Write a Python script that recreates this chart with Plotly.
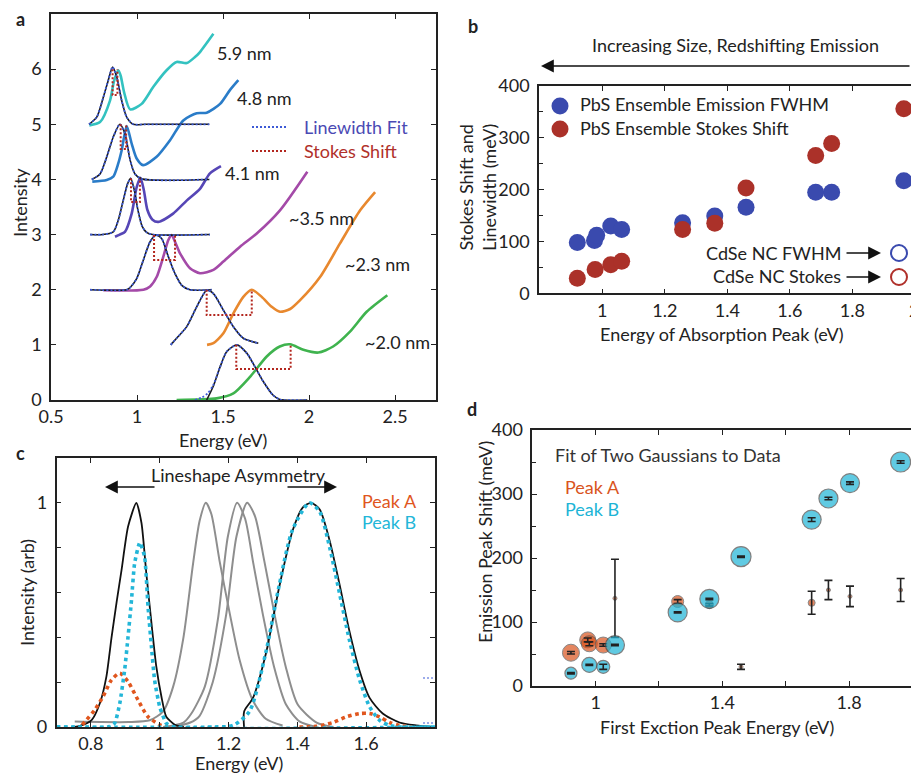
import plotly.graph_objects as go

W, H = 911, 774
def PX(x): return x / W
def PY(y): return 1 - y / H

FONT = "Lato, 'Open Sans', sans-serif"
TXT = "#222222"
FS = 18

# ---------------- Panel a data (energy eV, offset intensity) ----------------
size_labels = ["5.9 nm", "4.8 nm", "4.1 nm", "~3.5 nm", "~2.3 nm", "~2.0 nm"]
abs_colors = ["#33c2c0", "#2a7cc8", "#5646b6", "#a44aa8", "#e8882e", "#3fb34e"]

abs59_E = [0.723, 0.785, 0.843, 0.866, 0.891, 0.905, 0.925, 0.96, 1.027, 1.095, 1.172, 1.23, 1.289, 1.337, 1.366, 1.444]
abs59_I = [4.98, 5.04, 5.43, 5.78, 5.98, 5.88, 5.58, 5.27, 5.37, 5.68, 5.98, 6.13, 6.11, 6.22, 6.31, 6.64]
em59_E = [0.721, 0.766, 0.804, 0.833, 0.858, 0.882, 0.911, 0.94, 0.978, 1.05, 1.42]
em59_I = [5.0, 5.13, 5.49, 5.80, 6.04, 5.86, 5.43, 5.13, 5.0, 5.0, 5.0]

abs48_E = [0.74, 0.824, 0.862, 0.891, 0.911, 0.94, 0.969, 0.998, 1.035, 1.114, 1.192, 1.269, 1.347, 1.405, 1.483, 1.54, 1.589]
abs48_I = [3.96, 3.99, 4.05, 4.29, 4.53, 4.97, 4.65, 4.38, 4.26, 4.41, 4.71, 5.07, 5.2, 5.21, 5.37, 5.62, 5.80]
em48_E = [0.737, 0.785, 0.824, 0.862, 0.90, 0.93, 0.96, 0.988, 1.027, 1.42]
em48_I = [4.0, 4.1, 4.41, 4.77, 5.0, 4.83, 4.35, 4.1, 4.01, 4.0]

abs41_E = [0.872, 0.90, 0.93, 0.969, 0.998, 1.02, 1.04, 1.06, 1.09, 1.124, 1.21, 1.29, 1.366, 1.424, 1.488]
abs41_I = [2.96, 3.0, 3.05, 3.38, 3.86, 4.03, 3.8, 3.45, 3.27, 3.23, 3.38, 3.62, 3.83, 4.11, 4.24]
em41_E = [0.727, 0.80, 0.862, 0.89, 0.92, 0.945, 0.963, 0.985, 1.005, 1.03, 1.056, 1.09, 1.424]
em41_I = [3.0, 3.0, 3.05, 3.25, 3.62, 3.92, 4.02, 3.8, 3.45, 3.15, 3.04, 3.0, 3.0]

abs35_E = [0.804, 1.037, 1.076, 1.114, 1.153, 1.182, 1.2, 1.25, 1.308, 1.366, 1.444, 1.502, 1.599, 1.696, 1.831, 1.99]
abs35_I = [1.99, 2.0, 2.06, 2.23, 2.6, 2.9, 2.99, 2.66, 2.39, 2.30, 2.36, 2.51, 2.78, 3.02, 3.44, 4.14]
em35_E = [0.727, 0.94, 0.96, 0.998, 1.037, 1.076, 1.11, 1.143, 1.182, 1.221, 1.26, 1.308, 1.434]
em35_I = [2.0, 2.0, 2.04, 2.2, 2.54, 2.87, 2.99, 2.93, 2.6, 2.29, 2.08, 2.0, 2.0]

abs23_E = [1.407, 1.444, 1.502, 1.56, 1.618, 1.667, 1.725, 1.783, 1.831, 1.89, 1.948, 2.064, 2.18, 2.297, 2.384]
abs23_I = [1.0, 1.03, 1.21, 1.57, 1.87, 2.0, 1.87, 1.69, 1.6, 1.65, 1.81, 2.23, 2.84, 3.44, 3.77]
em23_E = [1.196, 1.23, 1.289, 1.347, 1.405, 1.444, 1.502, 1.56, 1.618, 1.705]
em23_I = [1.0, 1.12, 1.33, 1.69, 1.99, 1.93, 1.63, 1.33, 1.12, 1.03]

abs20_E = [1.23, 1.463, 1.56, 1.657, 1.754, 1.83, 1.89, 1.967, 2.054, 2.14, 2.238, 2.335, 2.455]
abs20_I = [0.0, 0.03, 0.12, 0.42, 0.79, 0.97, 1.01, 0.91, 0.86, 0.97, 1.24, 1.60, 1.90]
em20_E = [1.405, 1.442, 1.483, 1.521, 1.58, 1.638, 1.686, 1.735, 1.79, 1.83, 1.99]
em20_I = [0.0, 0.24, 0.6, 0.875, 1.0, 0.85, 0.6, 0.33, 0.09, 0.01, 0.0]
fit20_E = [1.337, 1.38, 1.41, 1.442, 1.483, 1.521, 1.58, 1.638, 1.686, 1.735, 1.79, 1.83, 1.99]
fit20_I = [0.0, 0.05, 0.12, 0.26, 0.6, 0.875, 1.0, 0.85, 0.6, 0.33, 0.09, 0.01, 0.0]

# Stokes shift brackets: emission peak, absorption peak, peak level, bracket bottom
stokes_em_E = [0.858, 0.905, 0.965, 1.099, 1.405, 1.577]
stokes_abs_E = [0.886, 0.937, 1.017, 1.221, 1.667, 1.893]
stokes_top = [6.0, 5.0, 4.02, 2.99, 2.0, 1.0]
stokes_bottom = [5.53, 4.55, 3.59, 2.54, 1.54, 0.56]

# ---------------- Panel b data ----------------
b_fwhm_E = [0.920, 0.975, 0.982, 1.027, 1.062, 1.257, 1.36, 1.46, 1.683, 1.734, 1.965]
b_fwhm_meV = [98, 102, 112, 130, 123, 136, 149, 166, 195, 195, 217]
b_stokes_E = [0.920, 0.977, 1.027, 1.062, 1.257, 1.36, 1.46, 1.683, 1.734, 1.965]
b_stokes_meV = [29, 46, 55, 62, 123, 135, 203, 266, 289, 356]

# ---------------- Panel c data ----------------
c_blk1_E = [0.753, 0.768, 0.802, 0.826, 0.845, 0.860, 0.875, 0.889, 0.908, 0.932, 0.947, 0.961, 0.976, 0.99, 1.005, 1.019, 1.044, 1.07]
c_blk1_I = [0.0, 0.005, 0.031, 0.106, 0.225, 0.40, 0.56, 0.70, 0.894, 1.0, 0.91, 0.686, 0.463, 0.27, 0.135, 0.046, 0.01, 0.0]
c_B1_E = [0.7, 0.85, 0.869, 0.884, 0.898, 0.908, 0.918, 0.927, 0.942, 0.956, 0.966, 0.976, 0.985, 1.0, 1.019, 1.04, 1.8]
c_B1_I = [0.0, 0.0, 0.017, 0.106, 0.254, 0.403, 0.567, 0.73, 0.823, 0.76, 0.537, 0.358, 0.21, 0.09, 0.017, 0.0, 0.0]
c_A1_E = [0.775, 0.787, 0.811, 0.835, 0.86, 0.884, 0.908, 0.937, 0.966, 1.0, 1.02]
c_A1_I = [0.01, 0.031, 0.076, 0.135, 0.21, 0.24, 0.202, 0.12, 0.046, 0.01, 0.0]
c_g1_E = [0.753, 0.91, 0.971, 1.01, 1.039, 1.069, 1.097, 1.116, 1.134, 1.15, 1.174, 1.203, 1.232, 1.27, 1.308, 1.357]
c_g1_I = [0.024, 0.022, 0.03, 0.07, 0.18, 0.40, 0.73, 0.92, 1.0, 0.95, 0.74, 0.51, 0.30, 0.12, 0.037, 0.007]
c_g2_E = [1.01, 1.069, 1.092, 1.131, 1.169, 1.198, 1.225, 1.248, 1.272, 1.3, 1.332, 1.367, 1.406, 1.456]
c_g2_I = [0.0, 0.02, 0.06, 0.18, 0.48, 0.85, 1.0, 0.93, 0.73, 0.5, 0.27, 0.1, 0.025, 0.0]
c_g3_E = [1.04, 1.089, 1.116, 1.154, 1.193, 1.223, 1.254, 1.277, 1.304, 1.334, 1.366, 1.401, 1.456, 1.505]
c_g3_I = [0.0, 0.02, 0.05, 0.2, 0.5, 0.85, 1.0, 0.94, 0.74, 0.5, 0.27, 0.1, 0.02, 0.0]
c_blk2_E = [1.245, 1.2455, 1.271, 1.309, 1.348, 1.387, 1.416, 1.44, 1.465, 1.494, 1.522, 1.551, 1.581, 1.61, 1.648, 1.697, 1.745, 1.793]
c_blk2_I = [0.0, 0.07, 0.13, 0.33, 0.63, 0.88, 0.98, 1.0, 0.97, 0.83, 0.64, 0.43, 0.25, 0.13, 0.06, 0.02, 0.007, 0.0]
c_B2_E = [0.7, 1.158, 1.213, 1.261, 1.308, 1.347, 1.386, 1.435, 1.465, 1.494, 1.522, 1.551, 1.581, 1.61, 1.639, 1.668, 1.704, 1.8]
c_B2_I = [0.0, 0.0, 0.007, 0.07, 0.33, 0.63, 0.88, 1.0, 0.96, 0.80, 0.6, 0.39, 0.21, 0.09, 0.03, 0.007, 0.0, 0.0]
c_A2_E = [1.406, 1.455, 1.503, 1.542, 1.581, 1.61, 1.639, 1.668, 1.697, 1.733]
c_A2_I = [0.0, 0.003, 0.02, 0.045, 0.06, 0.06, 0.045, 0.02, 0.007, 0.0]

# ---------------- Panel d data ----------------
dA_E = [0.922, 0.975, 0.98, 1.024, 1.061, 1.259, 1.359, 1.459, 1.682, 1.735, 1.803, 1.963]
dA_shift = [52, 72, 66, 64, 137, 132, 127, 30, 130, 150, 140, 150]
dA_err = [2, 3, 3, 2, 61, 3, 2, 4, 18, 15, 16, 18]
dA_size = [17, 16, 16, 16, 4, 12, 8, 4, 7, 4, 4, 4]
dB_E = [0.922, 0.98, 1.024, 1.061, 1.259, 1.359, 1.459, 1.682, 1.735, 1.803, 1.963]
dB_shift = [20, 33, 30, 64, 115, 136, 202, 260, 293, 317, 350]
dB_err = [1, 1, 4, 1, 1, 1, 1, 3, 2, 2, 2]
dB_size = [12, 15, 13, 19, 19, 19, 20, 19, 19, 19, 20]

fig = go.Figure()

def spl(x, y, ax, color, width=2.2, dash="solid", smooth=0.7):
    fig.add_trace(go.Scatter(x=x, y=y, mode="lines", xaxis=ax[0], yaxis=ax[1],
                             line=dict(color=color, width=width, dash=dash, shape="spline", smoothing=smooth),
                             hoverinfo="skip", showlegend=False))

A = ("x", "y"); B = ("x2", "y2"); C = ("x3", "y3"); D = ("x4", "y4")

# Panel a
abs_sets = [(abs59_E, abs59_I), (abs48_E, abs48_I), (abs41_E, abs41_I), (abs35_E, abs35_I), (abs23_E, abs23_I), (abs20_E, abs20_I)]
em_sets = [(em59_E, em59_I), (em48_E, em48_I), (em41_E, em41_I), (em35_E, em35_I), (em23_E, em23_I), (em20_E, em20_I)]
fit_sets = em_sets[:5] + [(fit20_E, fit20_I)]
for (e, i), col in zip(abs_sets, abs_colors):
    spl(e, i, A, col, width=2.6)
for e, i in em_sets:
    spl(e, i, A, "#1a1a1a", width=1.6)
for e, i in fit_sets:
    spl(e, i, A, "#3d5ad6", width=1.8, dash="2px,2px")
for em, ab, top, bot in zip(stokes_em_E, stokes_abs_E, stokes_top, stokes_bottom):
    fig.add_trace(go.Scatter(x=[em, em, ab, ab], y=[top, bot, bot, top], mode="lines",
                             xaxis="x", yaxis="y", line=dict(color="#b3261e", width=2, dash="2px,2px"),
                             hoverinfo="skip", showlegend=False))

# Panel b
fig.add_trace(go.Scatter(x=b_fwhm_E, y=b_fwhm_meV, mode="markers", xaxis="x2", yaxis="y2",
                         marker=dict(size=17, color="#3a4aae", line=dict(width=0)), showlegend=False, hoverinfo="skip"))
fig.add_trace(go.Scatter(x=b_stokes_E, y=b_stokes_meV, mode="markers", xaxis="x2", yaxis="y2",
                         marker=dict(size=17, color="#ab3129", line=dict(width=0)), showlegend=False, hoverinfo="skip"))

# Panel c
for e, i in [(c_g1_E, c_g1_I), (c_g2_E, c_g2_I), (c_g3_E, c_g3_I)]:
    spl(e, i, C, "#8e8e8e", width=2.0)
spl(c_blk1_E, c_blk1_I, C, "#111111", width=1.8, smooth=0.6)
spl(c_blk2_E, c_blk2_I, C, "#111111", width=1.8)
spl(c_A1_E, c_A1_I, C, "#e0561e", width=3.6, dash="dot")
spl(c_A2_E, c_A2_I, C, "#e0561e", width=3.6, dash="dot")
spl(c_B1_E, c_B1_I, C, "#23b6d8", width=3.6, dash="dot", smooth=0.5)
spl(c_B2_E, c_B2_I, C, "#23b6d8", width=3.6, dash="dot")

# Panel d
fig.add_trace(go.Scatter(x=dA_E, y=dA_shift, mode="markers", xaxis="x4", yaxis="y4",
                         marker=dict(size=dA_size, color="#d9541e", line=dict(width=1, color="#555555")),
                         showlegend=False, hoverinfo="skip"))
fig.add_trace(go.Scatter(x=dA_E, y=dA_shift, mode="markers", xaxis="x4", yaxis="y4",
                         marker=dict(size=1, color="rgba(0,0,0,0)"),
                         error_y=dict(type="data", array=dA_err, color="#222222", thickness=1.6, width=4),
                         showlegend=False, hoverinfo="skip"))
fig.add_trace(go.Scatter(x=dB_E, y=dB_shift, mode="markers", xaxis="x4", yaxis="y4",
                         marker=dict(size=dB_size, color="#1db4d6", line=dict(width=1.2, color="#4a4a4a")),
                         showlegend=False, hoverinfo="skip"))
fig.add_trace(go.Scatter(x=dB_E, y=dB_shift, mode="markers", xaxis="x4", yaxis="y4",
                         marker=dict(size=1, color="rgba(0,0,0,0)"),
                         error_y=dict(type="data", array=dB_err, color="#222222", thickness=1.6, width=4),
                         showlegend=False, hoverinfo="skip"))

axis_common = dict(showline=True, linecolor="#222222", linewidth=1.6, ticks="inside", ticklen=5,
                   tickcolor="#222222", tickwidth=1.2, showgrid=False, zeroline=False, automargin=False,
                   tickfont=dict(family=FONT, size=FS, color=TXT))
xcommon = dict(ticklabelstandoff=0, **axis_common)
ycommon = dict(ticklabelstandoff=4, **axis_common)

layout = dict(
    width=W, height=H, margin=dict(l=0, r=0, t=0, b=0, pad=0, autoexpand=False),
    paper_bgcolor="white", plot_bgcolor="white", showlegend=False,
    font=dict(family=FONT, size=FS, color=TXT),
    xaxis=dict(domain=[PX(51), PX(436)], range=[0.5, 2.738], anchor="y", tickvals=[0.5, 1, 1.5, 2, 2.5],
               mirror="ticks", **xcommon),
    yaxis=dict(domain=[PY(400), PY(14)], range=[0, 7], anchor="x", tickvals=[0, 1, 2, 3, 4, 5, 6],
               mirror="ticks", **ycommon),
    xaxis2=dict(domain=[PX(539), 1.0], range=[0.7974, 1.988], anchor="y2", tickvals=[1, 1.2, 1.4, 1.6, 1.8],
                mirror="ticks", **xcommon),
    yaxis2=dict(domain=[PY(293.3), PY(86)], range=[0, 400], anchor="x2", tickvals=[0, 100, 200, 300, 400],
                minor=dict(tickvals=[50, 150, 250, 350], ticks="inside", ticklen=4, tickcolor="#222222"),
                mirror=False, **ycommon),
    xaxis3=dict(domain=[PX(56.5), PX(435)], range=[0.7, 1.8], anchor="y3",
                tickvals=[0.8, 1, 1.2, 1.4, 1.6], mirror="ticks", **xcommon),
    yaxis3=dict(domain=[PY(727), PY(458)], range=[0, 1.2], anchor="x3",
                tickvals=[0, 0.2, 0.4, 0.6, 0.8, 1.0, 1.2], ticktext=["0", "", "", "", "", "1", ""],
                mirror="ticks", **ycommon),
    xaxis4=dict(domain=[PX(532.3), 1.0], range=[0.8, 1.9957], anchor="y4",
                tickvals=[0.8, 1, 1.2, 1.4, 1.6, 1.8], ticktext=["", "1", "", "1.4", "", "1.8"],
                mirror="ticks", **xcommon),
    yaxis4=dict(domain=[PY(686), PY(430)], range=[0, 400], anchor="x4", tickvals=[0, 100, 200, 300, 400],
                minor=dict(tickvals=[50, 150, 250, 350], ticks="inside", ticklen=4, tickcolor="#222222"),
                mirror=False, **ycommon),
)
fig.update_layout(**layout)

ann = []
def text(x, y, s, color=TXT, size=FS, xanchor="left", angle=0, bold=False):
    ann.append(dict(x=PX(x), y=PY(y), xref="paper", yref="paper", text=("<b>%s</b>" % s) if bold else s,
                    showarrow=False, xanchor=xanchor, yanchor="middle", textangle=angle,
                    font=dict(family=FONT, size=size, color=color)))

def arrow(x_head, y_head, x_tail, y_tail):
    ann.append(dict(x=PX(x_head), y=PY(y_head), xref="paper", yref="paper", ax=x_tail - x_head, ay=y_tail - y_head,
                    axref="pixel", ayref="pixel", text="", showarrow=True, arrowhead=2, arrowsize=1.6,
                    arrowwidth=1.6, arrowcolor="#111111"))

# panel letters
text(20, 19, "a", xanchor="center", bold=True)
text(473, 26, "b", xanchor="center", bold=True)
text(20, 453, "c", xanchor="center", bold=True)
text(472, 409, "d", xanchor="center", bold=True)

# panel a text
for lab, (lx, ly) in zip(size_labels, [(215, 53), (235, 98), (223, 173), (287, 218), (343, 264), (363, 342)]):
    text(lx, ly, lab)
text(302, 127, "Linewidth Fit", color="#4a4ab4")
text(302, 151, "Stokes Shift", color="#b0302a")
text(20, 203, "Intensity", xanchor="center", angle=-90)
text(223, 440, "Energy (eV)", xanchor="center")

# panel b text
text(590, 45, "Increasing Size, Redshifting Emission")
arrow(541, 66, 930, 66)
text(578, 104, "PbS Ensemble Emission FWHM")
text(578, 128, "PbS Ensemble Stokes Shift")
text(843, 253, "CdSe NC FWHM", xanchor="right")
text(843, 276, "CdSe NC Stokes", xanchor="right")
arrow(881, 253, 845, 253)
arrow(881, 277, 845, 277)
text(477, 187, "Stokes Shift and<br>Linewidth (meV)", xanchor="center", angle=-90)
text(722, 334, "Energy of Absorption Peak (eV)", xanchor="center")
text(914, 310, "2", xanchor="center")

# panel c text
text(238, 475, "Lineshape Asymmetry", xanchor="center")
arrow(105, 487, 156, 487)
arrow(337, 487, 286, 487)
text(360, 501, "Peak A", color="#e0561e")
text(360, 522, "Peak B", color="#23b6d8")
text(27, 593, "Intensity (arb)", xanchor="center", angle=-90)
text(239, 763, "Energy (eV)", xanchor="center")

# panel d text
text(553, 455, "Fit of Two Gaussians to Data", color="#333333")
text(563, 487, "Peak A", color="#d9541e")
text(563, 509, "Peak B", color="#1db4d6")
text(485, 542, "Emission Peak Shift (meV)", xanchor="center", angle=-90)
text(717, 727, "First Exction Peak Energy (eV)", xanchor="center")

shapes = []
# panel a legend keys
shapes.append(dict(type="line", xref="paper", yref="paper", x0=PX(252), x1=PX(288), y0=PY(127), y1=PY(127),
                   line=dict(color="#3d5ad6", width=2.2, dash="2px,2px")))
shapes.append(dict(type="line", xref="paper", yref="paper", x0=PX(252), x1=PX(288), y0=PY(151), y1=PY(151),
                   line=dict(color="#b3261e", width=2.2, dash="2px,2px")))
# stray dotted fragments at the right edge of panel c
for yy in (678, 723):
    shapes.append(dict(type="line", xref="paper", yref="paper", x0=PX(423), x1=PX(433), y0=PY(yy), y1=PY(yy),
                       line=dict(color="#3d5ad6", width=1.2, dash="2px,2px")))
# panel b legend keys
for cy, col in [(106, "#3a4aae"), (129, "#ab3129")]:
    shapes.append(dict(type="circle", xref="paper", yref="paper", x0=PX(551.5), x1=PX(568.5),
                       y0=PY(cy + 8.5), y1=PY(cy - 8.5), fillcolor=col, line=dict(width=0)))
for cy, col in [(253, "#3a4aae"), (277, "#b0302a")]:
    shapes.append(dict(type="circle", xref="paper", yref="paper", x0=PX(891), x1=PX(907),
                       y0=PY(cy + 8), y1=PY(cy - 8), fillcolor="rgba(0,0,0,0)", line=dict(width=2, color=col)))

fig.update_layout(annotations=ann, shapes=shapes)
fig.write_html("out.html", config={"displayModeBar": False},
               post_script="document.body.style.margin='0';document.body.style.overflow='hidden';")
